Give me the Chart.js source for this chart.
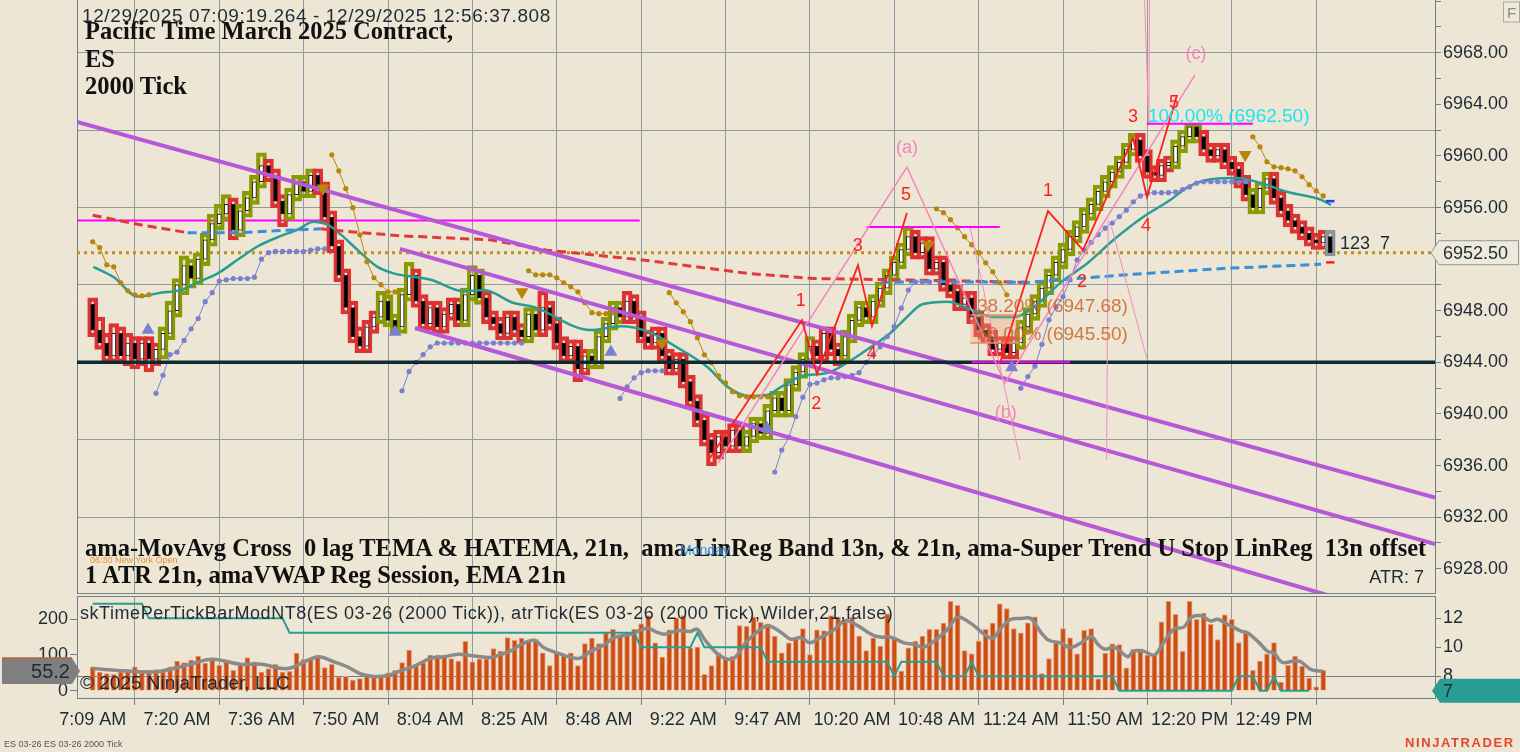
<!DOCTYPE html>
<html><head><meta charset="utf-8">
<script src="https://cdn.jsdelivr.net/npm/chart.js@4.4.1/dist/chart.umd.min.js"></script>
<style>
html,body{margin:0;padding:0;background:#EDE6D4;width:1520px;height:752px;overflow:hidden;position:relative;font-family:"Liberation Sans",Arial,sans-serif;color:#1C2B36}
.wrap{position:absolute;left:0;width:1520px}
.t{position:absolute;white-space:nowrap;line-height:1;transform:translateY(-50%);z-index:5}
.serif{font-family:"Liberation Serif","Times New Roman",serif;font-weight:bold;color:#111;font-size:24.5px}
</style></head><body>
<div class="wrap" style="top:0;height:595px"><canvas id="c1"></canvas></div>
<div class="wrap" style="top:595px;height:157px"><canvas id="c2"></canvas></div>
<div id="texts"></div>
<script>
// ---------------- DATA ----------------
const timeLabels = ['7:09 AM','7:20 AM','7:36 AM','7:50 AM','8:04 AM','8:25 AM','8:48 AM','9:22 AM','9:47 AM','10:20 AM','10:48 AM','11:24 AM','11:50 AM','12:20 PM','12:49 PM'];
const timeTickBars = [0,12,24,36,48,60,72,84,96,108,120,132,144,156,168];
const priceTicks = [6928,6930,6932,6934,6936,6938,6940,6942,6944,6946,6948,6950,6952,6954,6956,6958,6960,6962,6964,6966,6968,6970,6972];
const priceLabelTicks = [6928,6932,6936,6940,6944,6948,6952,6956,6960,6964,6968];
const priceGridTicks = [6932,6938,6944,6950,6956,6962,6968];
const leftTicks = [0,100,200];
const rightTicks = [8,10,12];

const barOpen = [6948.50,6946.50,6945.50,6944.50,6946.25,6944.50,6945.50,6944.25,6945.50,6944.25,
6945.00,6946.25,6948.00,6950.00,6951.50,6950.50,6952.00,6953.50,6954.75,6955.50,
6956.25,6954.25,6955.75,6956.75,6958.00,6959.25,6958.50,6956.50,6955.50,6957.00,
6958.00,6957.25,6958.50,6957.50,6955.25,6953.00,6950.75,6948.25,6946.00,6945.25,
6946.75,6947.50,6948.75,6947.25,6946.75,6949.25,6950.75,6948.75,6947.00,6948.25,
6946.75,6947.75,6948.50,6947.25,6949.25,6950.75,6949.00,6947.50,6947.00,6946.25,
6947.50,6946.50,6946.00,6947.75,6946.50,6948.25,6947.00,6945.50,6944.50,6945.25,
6943.50,6944.50,6944.00,6946.00,6947.00,6948.25,6947.50,6948.75,6947.50,6946.00,
6945.50,6946.25,6944.50,6943.50,6944.25,6942.50,6941.00,6939.50,6938.00,6937.00,
6938.25,6937.50,6938.75,6937.50,6938.25,6939.25,6938.50,6940.25,6941.25,6940.25,
6942.25,6943.25,6944.25,6945.25,6944.50,6946.25,6945.00,6944.50,6946.00,6947.25,
6948.25,6947.50,6948.75,6949.75,6950.75,6951.75,6952.75,6953.75,6952.50,6953.25,
6951.25,6951.75,6950.00,6949.50,6948.50,6949.00,6947.50,6946.50,6946.00,6945.00,
6945.50,6944.75,6945.50,6946.75,6947.75,6948.75,6949.75,6950.75,6951.75,6952.75,
6953.75,6954.50,6955.50,6956.25,6957.25,6958.00,6958.75,6959.50,6960.50,6961.25,
6960.00,6958.75,6958.50,6959.25,6959.50,6960.75,6961.50,6962.25,6961.50,6960.50,
6960.00,6960.50,6959.50,6959.00,6958.00,6957.00,6956.00,6957.50,6958.25,6956.75,
6955.75,6955.00,6954.50,6954.00,6953.50,6953.25,6953.75];
const barHigh = [6949.00,6947.50,6946.25,6947.00,6946.75,6946.25,6946.00,6946.00,6946.00,6945.50,
6946.75,6948.75,6950.50,6952.25,6952.00,6952.50,6954.00,6955.50,6956.25,6957.00,
6956.75,6956.25,6957.25,6958.50,6960.25,6959.75,6959.00,6957.00,6957.50,6958.50,
6958.50,6959.00,6959.00,6958.00,6955.75,6953.50,6951.25,6948.75,6946.75,6947.25,
6948.00,6949.50,6949.25,6947.75,6949.75,6951.75,6951.25,6949.25,6948.75,6948.75,
6948.25,6949.00,6949.00,6949.75,6951.50,6951.25,6949.50,6948.00,6947.50,6948.00,
6948.00,6947.00,6948.25,6948.25,6949.50,6948.75,6947.50,6946.00,6945.75,6945.75,
6945.00,6945.00,6946.50,6947.50,6948.75,6948.75,6949.50,6949.25,6948.00,6946.50,
6946.75,6946.75,6945.00,6944.75,6944.75,6943.00,6941.50,6940.00,6938.50,6938.75,
6938.75,6939.25,6939.25,6938.75,6939.75,6939.75,6940.75,6941.75,6941.75,6942.75,
6943.75,6944.75,6946.00,6945.75,6946.75,6946.75,6945.50,6946.50,6947.75,6948.75,
6948.75,6949.25,6950.25,6951.25,6952.25,6953.25,6954.50,6954.25,6953.75,6953.75,
6952.25,6952.25,6950.50,6950.00,6949.50,6949.50,6948.00,6947.00,6946.50,6946.00,
6946.00,6946.00,6947.25,6948.25,6949.25,6950.25,6951.25,6952.25,6953.25,6954.25,
6955.00,6956.00,6956.75,6957.75,6958.50,6959.25,6960.00,6961.00,6961.75,6961.75,
6960.50,6959.25,6959.75,6960.00,6961.25,6962.00,6962.50,6962.50,6962.00,6961.00,
6961.00,6961.00,6960.00,6959.50,6958.50,6957.50,6958.00,6958.75,6958.75,6957.25,
6956.25,6955.50,6955.00,6954.50,6954.00,6954.25,6954.25];
const barLow = [6946.00,6945.00,6944.00,6944.00,6944.00,6943.75,6943.50,6943.75,6943.25,6943.75,
6944.25,6945.75,6947.50,6949.25,6949.75,6950.00,6951.50,6953.00,6954.25,6955.00,
6953.50,6953.75,6955.25,6956.25,6957.50,6958.00,6956.00,6954.50,6955.00,6956.50,
6956.75,6956.75,6957.00,6954.75,6952.50,6950.25,6947.75,6945.50,6944.75,6944.75,
6946.25,6947.00,6946.75,6946.25,6946.25,6948.75,6948.25,6946.50,6946.50,6946.25,
6946.25,6947.25,6946.75,6946.75,6948.75,6948.50,6947.00,6946.50,6945.75,6945.75,
6946.00,6945.50,6945.50,6946.00,6946.00,6946.50,6945.00,6944.00,6944.00,6942.50,
6943.00,6943.50,6943.50,6945.50,6946.50,6947.00,6947.00,6947.00,6945.50,6945.00,
6945.00,6944.00,6943.00,6943.00,6942.00,6940.50,6939.00,6937.50,6936.00,6936.50,
6937.00,6937.00,6937.00,6937.00,6937.75,6938.00,6938.00,6939.75,6939.75,6939.75,
6941.75,6942.75,6943.75,6944.00,6944.00,6944.50,6943.75,6944.00,6945.50,6946.75,
6947.00,6947.00,6948.25,6949.25,6950.25,6951.25,6952.25,6952.00,6952.00,6950.75,
6950.75,6949.50,6949.00,6948.00,6948.00,6947.00,6946.00,6945.50,6944.50,6944.50,
6944.25,6944.25,6945.00,6946.25,6947.25,6948.25,6949.25,6950.25,6951.25,6952.25,
6953.25,6954.00,6955.00,6955.75,6956.75,6957.50,6958.25,6959.00,6960.00,6959.50,
6958.25,6958.00,6958.00,6958.75,6959.00,6960.25,6961.00,6961.00,6960.00,6959.50,
6959.50,6959.00,6958.50,6957.50,6956.50,6955.50,6955.50,6957.00,6956.25,6955.25,
6954.50,6954.00,6953.50,6953.00,6952.75,6952.75,6952.25];
const barClose = [6946.50,6945.50,6944.50,6946.25,6944.50,6945.50,6944.25,6945.50,6944.25,6945.00,
6946.25,6948.00,6950.00,6951.50,6950.50,6952.00,6953.50,6954.75,6955.50,6956.25,
6954.25,6955.75,6956.75,6958.00,6959.25,6958.50,6956.50,6955.50,6957.00,6958.00,
6957.25,6958.50,6957.50,6955.25,6953.00,6950.75,6948.25,6946.00,6945.25,6946.75,
6947.50,6948.75,6947.25,6946.75,6949.25,6950.75,6948.75,6947.00,6948.25,6946.75,
6947.75,6948.50,6947.25,6949.25,6950.75,6949.00,6947.50,6947.00,6946.25,6947.50,
6946.50,6946.00,6947.75,6946.50,6948.25,6947.00,6945.50,6944.50,6945.25,6943.50,
6944.50,6944.00,6946.00,6947.00,6948.25,6947.50,6948.75,6947.50,6946.00,6945.50,
6946.25,6944.50,6943.50,6944.25,6942.50,6941.00,6939.50,6938.00,6937.00,6938.25,
6937.50,6938.75,6937.50,6938.25,6939.25,6938.50,6940.25,6941.25,6940.25,6942.25,
6943.25,6944.25,6945.25,6944.50,6946.25,6945.00,6944.50,6946.00,6947.25,6948.25,
6947.50,6948.75,6949.75,6950.75,6951.75,6952.75,6953.75,6952.50,6953.25,6951.25,
6951.75,6950.00,6949.50,6948.50,6949.00,6947.50,6946.50,6946.00,6945.00,6945.50,
6944.75,6945.50,6946.75,6947.75,6948.75,6949.75,6950.75,6951.75,6952.75,6953.75,
6954.50,6955.50,6956.25,6957.25,6958.00,6958.75,6959.50,6960.50,6961.25,6960.00,
6958.75,6958.50,6959.25,6959.50,6960.75,6961.50,6962.25,6961.50,6960.50,6960.00,
6960.50,6959.50,6959.00,6958.00,6957.00,6956.00,6957.50,6958.25,6956.75,6955.75,
6955.00,6954.50,6954.00,6953.50,6953.25,6953.75,6952.50];
// bars where the MA-cross state is down (red outline)
const downTrendRanges = [[0,9],[20,20],[25,27],[32,40],[46,52],[56,61],[64,70],[76,92],[103,106],[117,131],[149,153],[158,164],[168,176]];

// EMA 21 (teal)
const emaBar = [0.1,3,6.4,9.7,12.5,14.9,17.8,20.6,23.5,26.3,29.2,31.4,33.4,35.3,37.7,40.5,42.8,48.1,52.8,55.6,59.9,62.7,70.8,75.1,78.9,83.6,87.5,90.3,93.2,96,97.9,100.7,104.6,107.4,110.7,113.5,115.6,118,121.6,124.9,128.2,131,133.9,137.7,141.5,145.2,149.5,153.3,155.8,159,162.9,166.1,170,174.7,176.1];
const emaPrice = [6951.4,6950.6,6949.1,6949.4,6949.6,6950.2,6950.9,6951.95,6953.0,6953.7,6954.3,6954.9,6954.67,6953.9,6952.7,6951.4,6950.9,6950.4,6949.5,6949.6,6948.6,6948.3,6946.5,6946.8,6946.4,6945.0,6943.6,6942.1,6941.4,6941.5,6942.1,6942.9,6943.2,6944.0,6945.2,6946.3,6947.4,6948.5,6948.7,6948.1,6947.5,6947.5,6948.3,6950.2,6951.7,6953.5,6955.3,6956.6,6957.6,6958.2,6958.3,6957.9,6957.2,6956.6,6956.2];
// VWAP (red when below, blue when above)
const vwapRedABar = [0,6.4,13.5];
const vwapRedAPrice = [6955.4,6954.7,6954.05];
const vwapBlueABar = [13.5,20.6,26,32.4];
const vwapBlueAPrice = [6954.05,6954.05,6954.2,6954.35];
const vwapRedBBar = [32.4,37.1,44.1,56.5,64.6,78.8,93.1,102.5,114.8,124.9,133];
const vwapRedBPrice = [6954.35,6954.1,6953.8,6953.5,6952.7,6951.9,6950.9,6950.5,6950.4,6950.3,6950.2];
const vwapBlueBBar = [112.1,118.8,133,147.2,161.5,174.7];
const vwapBlueBPrice = [6950.2,6950.25,6950.2,6950.8,6951.3,6951.6];

// Super Trend stops: upper (gold) and lower (lavender), segment start bars + values
const stopUpperStart = [0,34,62,82,120,165];
const stopUpperVals = [
 [6953.35,6952.9,6951.56,6951.41,6950.17,6949.55,6949.24,6949.16,6949.24],
 [6960.09,6958.85,6957.46,6955.99,6953.89,6951.8,6950.56,6950.02,6949.47,6949.47],
 [6951.1,6950.79,6950.79,6950.79,6950.56,6950.17,6949.86,6949.47,6948.62,6947.85,6947.77,6947.77,6947.85],
 [6949.4,6948.62,6947.92,6947.15,6945.91,6944.59,6943.97,6942.96,6942.42,6941.72,6941.41,6941.33,6941.33,6941.33,6941.33],
 [6955.9,6955.6,6955.06,6954.43,6953.74,6953.12,6952.5,6951.72,6951.02,6950.17,6949.24],
 [6961.49,6960.71,6959.55,6959.16,6959.09,6959.01,6958.85,6958.39,6957.77,6957.3,6956.9]];
const stopLowerStart = [9,44,75,97,132];
const stopLowerVals = [
 [6941.6,6943.0,6944.6,6944.8,6945.7,6946.6,6947.4,6948.7,6949.4,6950.3,6950.4,6950.5,6950.5,6950.5,6950.6,6952.0,6952.5,6952.6,6952.6,6952.6,6952.6,6952.6,6952.7,6952.8,6952.8],
 [6941.8,6943.3,6944.0,6944.6,6945.2,6945.5,6945.5,6945.5,6945.5,6945.5,6945.5,6945.5,6945.5,6945.5,6945.5,6945.5,6945.5,6945.5],
 [6941.2,6942.1,6942.8,6943.2,6943.35,6943.35,6943.35],
 [6935.5,6937.2,6938.2,6939.8,6941.3,6942.3,6942.4,6942.65,6942.8,6942.8,6942.9,6943.0,6943.2,6944.0,6944.6,6945.2,6946.0,6946.8,6948.2,6949.6,6950.25,6950.25,6950.25],
 [6942.0,6942.9,6943.7,6945.4,6947.3,6948.3,6949.1,6950.4,6951.95,6952.7,6953.3,6953.9,6954.4,6954.8,6955.3,6955.8,6956.45,6956.9,6957.1,6957.15,6957.15,6957.15,6957.2,6957.4,6957.6,6957.9,6958.0,6958.0,6958.0,6958.0,6958.0,6958.0,6958.0]];
// current-bar stop markers
const lastStopUpper = 6956.5, lastStopLower = 6951.75;

// trend channel (three drawn lines): [bar, price] end points
const channelTopBar = [-2.23,190.9];   const channelTopPrice = [6962.63,6933.52];
const channelMidBar = [43.7,190.9];    const channelMidPrice = [6952.8,6929.91];
const channelLowBar = [45.83,190.9];   const channelLowPrice = [6946.66,6923.52];

// horizontal levels
const levelBlack = 6944.0, levelGold = 6952.5, levelMagenta = 6955.0;
const levelMagentaBars = [-2.23,77.8];
const shortLevelBars = [[110.1,129.0],[125.0,139.0],[149.9,165.0]];
const shortLevelPrices = [6954.5,6944.0,6962.5];

// Elliott waves
const wave1Bar = [87.78,100.87,103.0,108.84,110.83,115.8];
const wave1Price = [6936.58,6947.28,6943.09,6951.54,6946.81,6955.57];
const wave2Bar = [129.03,135.86,140.84,147.95,149.94,154.21];
const wave2Price = [6943.95,6955.73,6952.71,6961.39,6956.82,6964.73];
const waveLabels = ['1','2','3','4','5'];
const wave1LabelBar = [100.7,102.9,108.8,110.8,115.66];
const wave1LabelPrice = [6948.84,6940.84,6953.1,6944.72,6957.05];
const wave2LabelBar = [135.86,140.7,147.95,149.8,153.78];
const wave2LabelPrice = [6957.36,6950.3,6963.09,6954.64,6964.18];
const abcBar = [88.93,115.8,129.73,156.76];
const abcPrice = [6936.19,6959.14,6942.4,6966.29];
const abcLabels = ['(a)','(b)','(c)'];
const abcLabelBar = [115.8,129.87,156.9];
const abcLabelPrice = [6960.69,6940.15,6967.98];
const rayBars = [[124.77,131.9],[144.4,144.2],[144.9,149.9],[149.6,150.2],[150.3,150.2]];
const rayPrices = [[6954.49,6936.43],[6955.03,6936.43],[6954.5,6944.31],[6972.1,6962.4],[6972.1,6962.4]];

// Fibonacci retracement
const fibBars = [124.8,131.9];
const fib382 = 6947.68, fib500 = 6945.50, fib1000 = 6962.50;

// signal triangles
const triUpBar = [7.87,43.0,73.7,95.9,130.7];
const triUpPrice = [6946.5,6946.35,6944.8,6938.9,6943.6];
const triDnBar = [32.76,61.05,80.96,118.8,163.9];
const triDnPrice = [6957.5,6949.45,6945.5,6953.1,6960.1];

const lastPrice = 6952.50;

// Lower panel: time per tick bars (left axis), its average (left axis), ATR (right axis)
const timePerTick = [67,52,48,46,52,59,67,50,57,59,57,67,83,79,86,97,77,87,71,81,57,71,93,81,52,
62,74,52,54,105,88,90,97,65,74,38,40,30,34,43,40,43,50,57,79,114,71,78,100,100,97,90,83,138,81,89,89,
118,111,149,141,147,139,144,106,70,106,99,106,70,132,147,132,165,172,156,163,172,187,210,134,94,170,204,210,120,122,
46,70,106,93,96,182,180,206,191,187,153,106,134,148,174,101,170,168,210,206,191,206,153,112,148,125,215,148,55,120,
139,153,172,172,189,250,239,112,103,139,172,189,
243,230,174,162,190,207,48,90,133,174,148,103,169,174,33,105,131,129,64,116,117,100,100,193,250,214,110,250,200,217,186,143,212,200,135,162,57,83,103,135,24,71,97,69,35,11,57];
const avgBar = [0,4,9,13.5,17,21,24,27.7,32,34.3,36.2,38,40,42,44,46,48,50,52,54,56.6,58,59.5,61,62.8,64.2,66,69,70.8,72.7,74.2,76.5,78.9,80.3,81.3,83.2,85,86,87,89,90.8,91.7,92.7,94.1,96,97.9,99.3,100.7,102,103.5,105.5,107,108.8,110.7,112,113.5,115.4,116.8,118.2,120,121.6,123,125,126.8,128,129.2,130.6,132,133.4,134.9,136,137.7,139,140.5,142,143,144,145.3,147.2,148,149.5,151,152.4,153.8,155.2,156.2,157.6,159,160,161.4,163.3,164.2,165.7,167.1,168,169.2,171,171.8,173.3,175];
const avgVal = [62,56,53,72,88,74,74,62,95,81,67,48,40,43,57,71,90,95,102,98,93,101,112,130,141,120,106,90,110,128,149,158,175,163,158,168,166,172,144,101,87,101,130,158,182,163,144,149,134,149,172,196,182,158,150,150,134,130,122,144,172,206,187,158,147,176,200,202,202,162,141,133,121,133,152,129,116,122,95,111,110,100,138,173,178,205,210,195,200,186,167,162,138,110,105,79,84,81,59,54];
const atrTicks = [13,13,13,13,13,13,13,13,
12,12,12,12,12,12,12,12,12,12,12,12,12,12,12,12,12,12,12,12,
11,11,11,11,11,11,11,11,11,11,11,11,11,11,11,11,11,11,11,11,11,11,11,11,11,11,11,11,11,11,11,11,11,11,11,11,11,11,11,11,11,11,11,11,11,11,11,11,11,11,
10,10,10,10,10,10,10,10,11,10,10,10,10,10,10,10,10,10,
9,9,9,9,9,9,9,9,9,9,9,9,9,9,9,9,9,9,8,9,9,9,9,9,9,8,8,8,8,9,
8,8,8,8,8,8,8,8,8,8,8,8,8,8,8,8,8,8,8,8,
7,7,7,7,7,7,7,7,7,7,7,7,7,7,7,7,7,8,8,8,7,7,8,7,7,7,7,7];
const avgLast = 55.2, atrLast = 7, lastBarTicks = 123, lastBarSeconds = 7;

// ---------------- RENDER ----------------
const FONT = '"Liberation Sans", Arial, sans-serif';
const X_MIN = -2.23, X_MAX = 190.9;
const GRID = '#8E9BA0', AXIS = '#6F7F86', TXT = '#1C2B36';
const pts = (xs, ys) => xs.map((x, k) => ({x, y: ys[k]}));
const segs = (starts, vals) => { const out = []; starts.forEach((s, k) => { vals[k].forEach((v, j) => out.push({x: s + j, y: v})); out.push({x: s + vals[k].length - 0.5, y: null}); }); return out; };
const isDown = i => downTrendRanges.some(r => i >= r[0] && i <= r[1]);
const line = (data, color, width, extra) => Object.assign({type:'line', data, borderColor:color, borderWidth:width, pointRadius:0, fill:false, spanGaps:false}, extra || {});
const noPad = s => { s.paddingTop = 0; s.paddingBottom = 0; s.paddingLeft = 0; s.paddingRight = 0; };
const lastBar = barClose.length - 1;

const mainDatasets = [
  line(pts(levelMagentaBars, [levelMagenta, levelMagenta]), '#FF00FF', 2, {order: 20}),
  line(pts([X_MIN, X_MAX], [levelGold, levelGold]), '#C0901A', 3, {borderDash:[3,4], order: 20}),
  {type:'bar', data: barHigh.map((h, i) => ({x: i, y: [barLow[i], h]})), backgroundColor:'rgba(0,0,0,0)',
   borderColor: barHigh.map((h, i) => i === lastBar ? '#8A9499' : (isDown(i) ? '#DC3232' : '#8A9A05')), borderWidth: 3.5, borderSkipped: false,
   barThickness: 10, grouped: false, order: 15},
  {type:'bar', data: barOpen.map((o, i) => ({x: i, y: [Math.min(o, barClose[i]) , Math.max(o, barClose[i]) + (o === barClose[i] ? 0.15 : 0)]})),
   backgroundColor: barOpen.map((o, i) => barClose[i] >= o ? '#FFFFFF' : '#000000'), borderColor:'#222', borderWidth: 1, borderSkipped:false,
   barThickness: 4, grouped: false, order: 14},
  line(pts(emaBar, emaPrice), '#2A9D92', 2.5, {cubicInterpolationMode:'monotone', order: 12}),
  line(pts(vwapRedABar, vwapRedAPrice), '#E23A3A', 3, {borderDash:[9,5], order: 11}),
  line(pts(vwapRedBBar, vwapRedBPrice), '#E23A3A', 3, {borderDash:[9,5], order: 11}),
  line(pts(vwapBlueABar, vwapBlueAPrice), '#3A8EDB', 3, {borderDash:[9,5], order: 10}),
  line(pts(vwapBlueBBar, vwapBlueBPrice), '#3A8EDB', 3, {borderDash:[9,5], order: 10}),
  line(segs(stopUpperStart, stopUpperVals), '#B8860B', 1, {pointRadius: 2.6, pointBackgroundColor:'#B8860B', pointBorderWidth:0, order: 9}),
  line(segs(stopLowerStart, stopLowerVals), '#7B7FD0', 1, {pointRadius: 2.6, pointBackgroundColor:'#7B7FD0', pointBorderWidth:0, order: 9}),
  line(pts([lastBar - 0.6, lastBar + 0.6], [lastStopUpper, lastStopUpper]), '#1E3CFF', 2.5, {order: 9}),
  line(pts([lastBar - 0.6, lastBar + 0.6], [lastStopLower, lastStopLower]), '#FF2020', 2.5, {order: 9}),
  line(pts(fibBars, [fib382, fib382]), '#E09060', 1.5, {fill: {value: fib500}, backgroundColor:'rgba(238,160,120,0.35)', order: 8}),
  line(pts(fibBars, [fib500, fib500]), '#E09060', 1.5, {order: 8}),
  line(pts(channelTopBar, channelTopPrice), '#B658D8', 4, {order: 6}),
  line(pts(channelMidBar, channelMidPrice), '#B658D8', 4, {order: 6}),
  line(pts(channelLowBar, channelLowPrice), '#B658D8', 4, {order: 6}),
  line(pts([X_MIN, X_MAX], [levelBlack, levelBlack]), '#0E2A30', 3.5, {order: 5}),
];
shortLevelBars.forEach((b, k) => mainDatasets.push(line(pts(b, [shortLevelPrices[k], shortLevelPrices[k]]), '#FF00FF', 2, {order: 4})));
rayBars.forEach((b, k) => mainDatasets.push(line(pts(b, rayPrices[k]), '#F38BC0', 1, {order: 4})));
mainDatasets.push(line(pts(abcBar, abcPrice), '#F584BC', 1.5, {order: 3}));
mainDatasets.push(line(pts(wave1Bar, wave1Price), '#FF1E1E', 1.8, {order: 2}));
mainDatasets.push(line(pts(wave2Bar, wave2Price), '#FF1E1E', 1.8, {order: 2}));
mainDatasets.push(line(pts(triUpBar, triUpPrice), 'rgba(0,0,0,0)', 0, {showLine:false, pointStyle:'triangle', pointRadius:7.5, pointBackgroundColor:'#7B7FD0', pointBorderWidth:0, order: 1}));
mainDatasets.push(line(pts(triDnBar, triDnPrice), 'rgba(0,0,0,0)', 0, {showLine:false, pointStyle:'triangle', rotation:180, pointRotation:180, pointRadius:7.5, pointBackgroundColor:'#B8860B', pointBorderWidth:0, order: 1}));

const framePlugin = {
  id: 'frame',
  beforeDatasetsDraw(chart) {
    const {ctx, chartArea: a} = chart;
    ctx.save(); ctx.strokeStyle = AXIS; ctx.lineWidth = 1;
    ctx.beginPath(); ctx.moveTo(a.left + 0.5, a.top); ctx.lineTo(a.left + 0.5, a.bottom); ctx.stroke();
    ctx.restore();
  }
};
const markerPlugin = {
  id: 'marker',
  afterDraw(chart) {
    const {ctx} = chart; const y = chart.scales.y.getPixelForValue(lastPrice);
    ctx.save(); ctx.fillStyle = '#EFE9DA'; ctx.strokeStyle = '#8C969B'; ctx.lineWidth = 1;
    ctx.beginPath(); ctx.moveTo(1431, y); ctx.lineTo(1439, y - 12); ctx.lineTo(1518.5, y - 12); ctx.lineTo(1518.5, y + 12); ctx.lineTo(1439, y + 12); ctx.closePath();
    ctx.fill(); ctx.stroke(); ctx.restore();
  }
};

const main = new Chart(document.getElementById('c1'), {
  type: 'bar',
  data: {datasets: mainDatasets},
  options: {
    responsive: true, maintainAspectRatio: false, animation: false,
    layout: {autoPadding: false, padding: {left: 77, top: 0, right: 0, bottom: 0}},
    plugins: {legend: {display: false}, tooltip: {enabled: false}},
    scales: {
      x: {type: 'linear', min: X_MIN, max: X_MAX, offset: false, position: 'bottom',
          afterBuildTicks: s => { s.ticks = timeTickBars.map(v => ({value: v})); },
          afterFit: s => { s.height = 2; noPad(s); },
          ticks: {display: false}, grid: {color: GRID, drawTicks: false}, border: {display: true, color: AXIS}},
      y: {type: 'linear', position: 'right', min: 6926.12, max: 6972.09,
          afterBuildTicks: s => { s.ticks = priceTicks.map(v => ({value: v})); },
          afterFit: s => { s.width = 85; noPad(s); },
          ticks: {callback: v => priceLabelTicks.includes(v) ? v.toFixed(2) : '', color: TXT, font: {size: 18, family: FONT}, padding: 2, autoSkip: false},
          grid: {color: c => (c.tick && priceGridTicks.includes(c.tick.value)) ? GRID : 'rgba(0,0,0,0)', tickColor: AXIS, tickLength: 6},
          border: {display: true, color: AXIS}}
    }
  },
  plugins: [framePlugin, markerPlugin]
});

const lowerPlugin = {
  id: 'lowerMarks',
  beforeDatasetsDraw(chart) {
    const {ctx, chartArea: a} = chart;
    ctx.save(); ctx.strokeStyle = AXIS; ctx.lineWidth = 1;
    ctx.beginPath(); ctx.moveTo(a.left, a.top + 0.5); ctx.lineTo(a.right, a.top + 0.5); ctx.stroke();
    ctx.restore();
  },
  afterDraw(chart) {
    const {ctx} = chart; const yl = chart.scales.yL.getPixelForValue(avgLast); const yr = chart.scales.yR.getPixelForValue(atrLast);
    ctx.save();
    ctx.fillStyle = '#7F7F7F'; ctx.beginPath(); ctx.moveTo(2, yl - 13); ctx.lineTo(72, yl - 13); ctx.lineTo(80, yl); ctx.lineTo(72, yl + 13); ctx.lineTo(2, yl + 13); ctx.closePath(); ctx.fill();
    ctx.strokeStyle = '#B0643E'; ctx.lineWidth = 1.5; ctx.beginPath(); ctx.moveTo(2, yl - 13); ctx.lineTo(72, yl - 13); ctx.stroke();
    ctx.fillStyle = '#2A9D93'; ctx.beginPath(); ctx.moveTo(1432, yr); ctx.lineTo(1440, yr - 12); ctx.lineTo(1520, yr - 12); ctx.lineTo(1520, yr + 12); ctx.lineTo(1440, yr + 12); ctx.closePath(); ctx.fill();
    ctx.restore();
  }
};

const lower = new Chart(document.getElementById('c2'), {
  type: 'bar',
  data: {datasets: [
    line(atrTicks.map((v, i) => ({x: i, y: v})), '#2A9D92', 2, {yAxisID: 'yR', order: 1}),
    line(pts(avgBar, avgVal), '#8A8A8A', 3.5, {yAxisID: 'yL', tension: 0.35, order: 2}),
    {type: 'bar', data: timePerTick.map((v, i) => ({x: i, y: v})), yAxisID: 'yL', backgroundColor: '#CC4E17', borderColor: '#E99A76', borderWidth: 1, borderSkipped: 'bottom', barThickness: 5, grouped: false, order: 3}
  ]},
  options: {
    responsive: true, maintainAspectRatio: false, animation: false,
    layout: {autoPadding: false, padding: {left: 0, top: 1, right: 0, bottom: 0}},
    plugins: {legend: {display: false}, tooltip: {enabled: false}},
    scales: {
      x: {type: 'linear', min: X_MIN, max: X_MAX, offset: false, position: 'bottom',
          afterBuildTicks: s => { s.ticks = timeTickBars.map(v => ({value: v})); },
          afterFit: s => { s.height = 54; noPad(s); },
          ticks: {callback: (v, idx) => timeLabels[idx], color: TXT, font: {size: 18, family: FONT}, maxRotation: 0, autoSkip: false, padding: 4},
          grid: {color: GRID, tickColor: AXIS, tickLength: 7}, border: {display: true, color: AXIS}},
      yL: {type: 'linear', position: 'left', min: -20.4, max: 265,
          afterBuildTicks: s => { s.ticks = leftTicks.map(v => ({value: v})); },
          afterFit: s => { s.width = 77; noPad(s); },
          ticks: {color: TXT, font: {size: 18, family: FONT}, padding: 2},
          grid: {display: true, drawOnChartArea: false, tickColor: AXIS, tickLength: 7}, border: {display: true, color: AXIS}},
      yR: {type: 'linear', position: 'right', min: 6.5, max: 13.54,
          afterBuildTicks: s => { s.ticks = rightTicks.map(v => ({value: v})); },
          afterFit: s => { s.width = 85; noPad(s); },
          ticks: {color: TXT, font: {size: 18, family: FONT}, padding: 2},
          grid: {color: c => (c.tick && c.tick.value === 8) ? '#6F7F86' : 'rgba(0,0,0,0)', tickColor: AXIS, tickLength: 6},
          border: {display: true, color: AXIS}}
    }
  },
  plugins: [lowerPlugin]
});

// ---------------- TEXT (real DOM text) ----------------
const box = document.getElementById('texts');
function addText(txt, x, cy, css, rightAlign) {
  const d = document.createElement('div'); d.className = 't'; d.textContent = txt;
  if (rightAlign) d.style.right = (1520 - x) + 'px'; else d.style.left = x + 'px';
  d.style.top = cy + 'px'; if (css) d.style.cssText += css; box.appendChild(d); return d;
}
function addCentered(txt, x, cy, css) {
  const d = addText(txt, x, cy, css); d.style.transform = 'translate(-50%,-50%)'; return d;
}
const mx = v => main.scales.x.getPixelForValue(v), my = v => main.scales.y.getPixelForValue(v);

addText('12/29/2025 07:09:19.264 - 12/29/2025 12:56:37.808', 82, 15, 'font-size:19px;letter-spacing:0.6px;color:#1C2B36');
addText('Pacific Time March 2025 Contract,', 85, 31, '').className += ' serif';
addText('ES', 85, 59, '').className += ' serif';
addText('2000 Tick', 85, 86, '').className += ' serif';
addText('ama-MovAvg Cross  0 lag TEMA & HATEMA, 21n,  ama-LinReg Band 13n, & 21n, ama-Super Trend U Stop LinReg  13n offset', 85, 548, 'white-space:pre').className += ' serif';
addText('1 ATR 21n, amaVWAP Reg Session, EMA 21n', 85, 575, '').className += ' serif';
addText('ATR: ' + atrLast, 1424, 577, 'font-size:18px', true);
addText('Monday', 680, 550, 'font-size:14px;color:#3A8EDB');
addText('06:30 New York Open', 90, 560, 'font-size:9px;color:#E8922A');
addText(lastBarTicks + '  ' + lastBarSeconds, 1340, 243, 'font-size:18px;white-space:pre');
addText(lastPrice.toFixed(2), 1443, my(lastPrice), 'font-size:18px');
addText('F', 1503, 12, 'font-size:15px;color:#8A8A8A;border:1px solid #A8A8A8;padding:2px 3px;line-height:1;background:#EFE9DA');

waveLabels.forEach((t, k) => {
  addCentered(t, mx(wave1LabelBar[k]), my(wave1LabelPrice[k]), 'font-size:18px;color:#FF1E1E');
  addCentered(t, mx(wave2LabelBar[k]), my(wave2LabelPrice[k]), 'font-size:18px;color:#FF1E1E');
});
abcLabels.forEach((t, k) => addCentered(t, mx(abcLabelBar[k]), my(abcLabelPrice[k]), 'font-size:18px;color:#F584BC'));
addText('38.20% (' + fib382.toFixed(2) + ')', mx(125.75), my(6948.44), 'font-size:19px;color:rgba(205,100,40,0.85)');
addText('50.00% (' + fib500.toFixed(2) + ')', mx(125.75), my(6946.27), 'font-size:19px;color:rgba(205,100,40,0.85)');
addText('100.00% (' + fib1000.toFixed(2) + ')', mx(150.07), my(6963.17), 'font-size:19px;color:#1EE3F2');

// lower panel texts
const ly = v => 595 + lower.scales.yL.getPixelForValue(v);
const ry = v => 595 + lower.scales.yR.getPixelForValue(v);
addText('skTimePerTickBarModNT8(ES 03-26 (2000 Tick)), atrTick(ES 03-26 (2000 Tick),Wilder,21,false)', 80, 613, 'font-size:18px;letter-spacing:0.55px');
addText('\u00A9 2025 NinjaTrader, LLC', 80, 682, 'font-size:19px');
addText(avgLast.toFixed(1), 70, ly(avgLast), 'font-size:20px', true);
addText(String(atrLast), 1443, ry(atrLast), 'font-size:18px');
addText('ES 03-26 ES 03-26 2000 Tick', 4, 744, 'font-size:9px;color:#555');
addText('NINJATRADER', 1405, 742, 'font-size:13px;font-weight:bold;letter-spacing:1.6px;color:#E8452A');
</script>
</body></html>
